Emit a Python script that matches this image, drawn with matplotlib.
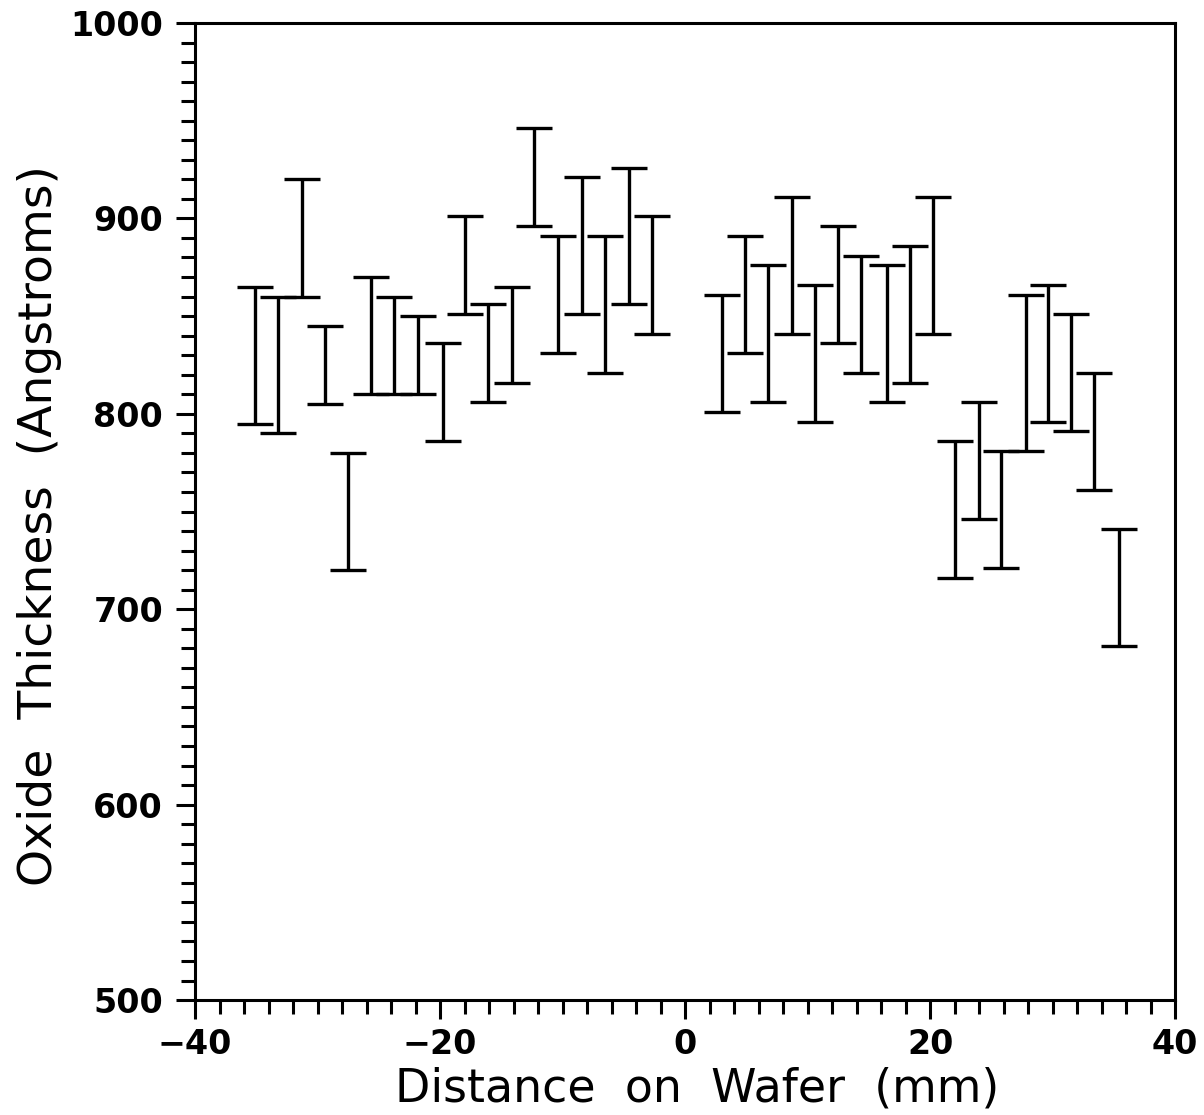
import numpy as np
import matplotlib
matplotlib.use("Agg")
import matplotlib.pyplot as plt
from matplotlib.ticker import MultipleLocator

# positions on the wafer (mm) and the low / high ends of each error bar (Angstroms)
pos_mm = [-35.1, -33.2, -31.3, -29.4, -27.5, -25.6, -23.8, -21.8, -19.8,
          -18.0, -16.1, -14.1, -12.3, -10.4, -8.4, -6.5, -4.6, -2.7,
          3.0, 4.9, 6.8, 8.7, 10.6, 12.5, 14.4, 16.5, 18.4, 20.2,
          22.0, 24.0, 25.8, 27.8, 29.6, 31.5, 33.4, 35.4]
thick_low = [795, 790, 860, 805, 720, 810, 810, 810, 786,
             851, 806, 816, 896, 831, 851, 821, 856, 841,
             801, 831, 806, 841, 796, 836, 821, 806, 816, 841,
             716, 746, 721, 781, 796, 791, 761, 681]
thick_high = [865, 860, 920, 845, 780, 870, 860, 850, 836,
              901, 856, 865, 946, 891, 921, 891, 926, 901,
              861, 891, 876, 911, 866, 896, 881, 876, 886, 911,
              786, 806, 781, 861, 866, 851, 821, 741]

x_ticks = [-40, -20, 0, 20, 40]
y_ticks = [500, 600, 700, 800, 900, 1000]

lo = np.array(thick_low, dtype=float)
hi = np.array(thick_high, dtype=float)
mid = (lo + hi) / 2
half = (hi - lo) / 2

fig = plt.figure(figsize=(12.04, 11.15), dpi=100)
ax = fig.add_axes([0.162, 0.1031, 0.814, 0.8763])

ax.errorbar(pos_mm, mid, yerr=half, fmt="none", ecolor="black",
            elinewidth=2.4, capsize=13, capthick=2.4)

ax.set_xlim(-40, 40)
ax.set_ylim(500, 1000)
ax.set_xticks(x_ticks)
ax.set_yticks(y_ticks)
ax.xaxis.set_minor_locator(MultipleLocator(2))
ax.yaxis.set_minor_locator(MultipleLocator(10))

for s in ax.spines.values():
    s.set_linewidth(2.2)

ax.tick_params(which="major", direction="out", length=14, width=2.2, pad=9,
               labelsize=24)
ax.tick_params(axis="x", which="major", pad=6)
ax.tick_params(which="minor", direction="out", length=10, width=2.2)
for lab in ax.get_xticklabels() + ax.get_yticklabels():
    lab.set_fontweight("bold")

# plotter-style wide word gaps
ax.set_xlabel("Distance  on  Wafer  (mm)", fontsize=33)
ax.set_ylabel("Oxide  Thickness  (Angstroms)", fontsize=34)
ax.xaxis.set_label_coords(0.512, -0.068)
ax.yaxis.set_label_coords(-0.136, 0.486)

fig.savefig("out.png", dpi=100, facecolor="white")
